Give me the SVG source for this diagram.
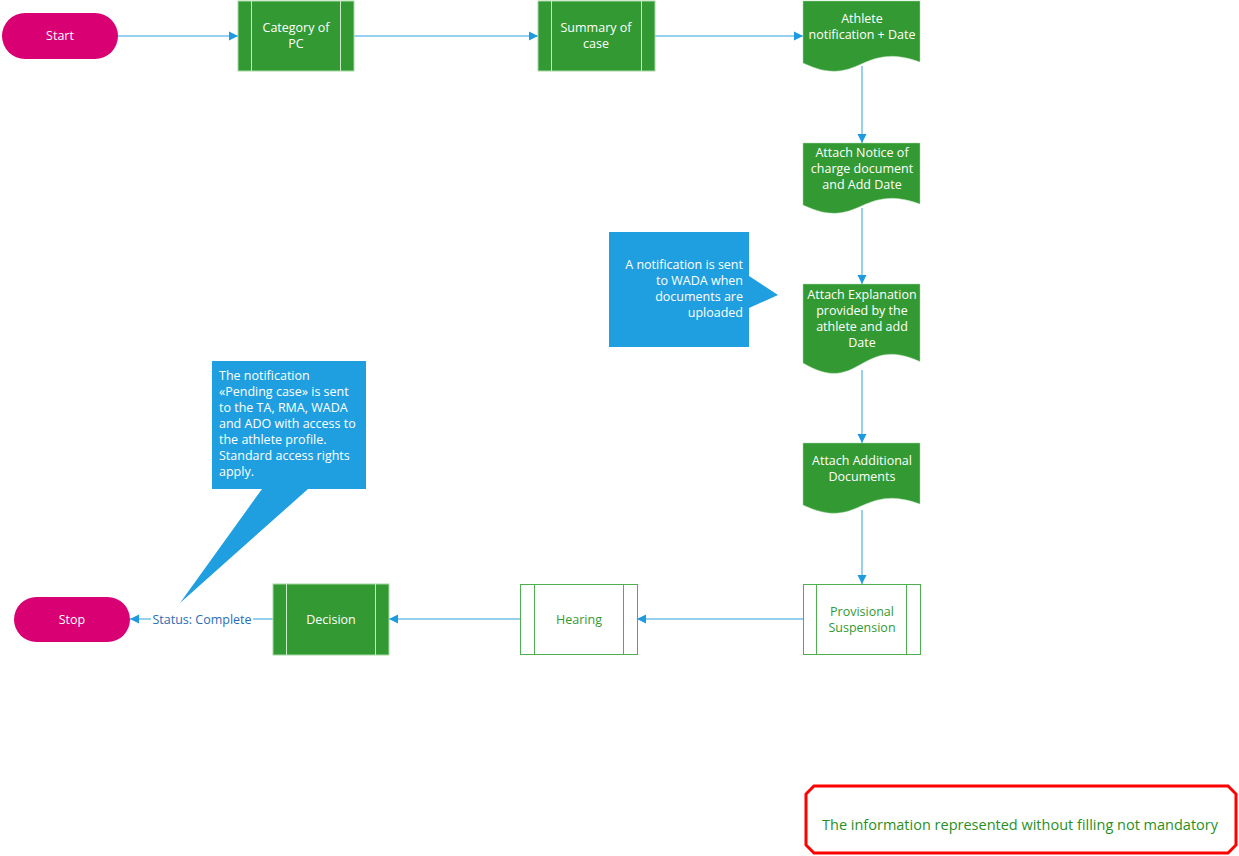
<svg xmlns="http://www.w3.org/2000/svg" width="1239" height="856" viewBox="0 0 1239 856">
<style>
text{font-family:"Open Sans","Noto Sans","Liberation Sans",sans-serif;font-size:12.5px}
.w{fill:#ffffff;text-anchor:middle}
.g{fill:#339933;text-anchor:middle}
.term{fill:#d80073}
.proc{fill:#339933;stroke:#a6d9a6;stroke-width:1}
.inl{stroke:#c9ecc9;stroke-width:1}
.proc2{fill:#ffffff;stroke:#4fae4f;stroke-width:1}
.inl2{stroke:#4fae4f;stroke-width:1}
.doc{fill:#339933;stroke:#a6d9a6;stroke-width:0.5}
.call{fill:#1f9fe0}
.ct{fill:#ffffff}
.conn{stroke:#2ea0e0;stroke-width:1;fill:none}
</style>
<defs>
<marker id="arr" markerWidth="10" markerHeight="10" refX="9" refY="5" orient="auto" markerUnits="userSpaceOnUse">
<path d="M0,0.5 L9,5 L0,9.5 Z" fill="#1e9be0"/>
</marker>
</defs>
<rect x="0" y="0" width="1239" height="856" fill="#ffffff"/>
<g id="connectors">
<line class="conn" x1="118" y1="36" x2="238" y2="36" marker-end="url(#arr)"/>
<line class="conn" x1="354" y1="36" x2="538" y2="36" marker-end="url(#arr)"/>
<line class="conn" x1="655" y1="36" x2="803" y2="36" marker-end="url(#arr)"/>
<line class="conn" x1="862" y1="66" x2="862" y2="143" marker-end="url(#arr)"/>
<line class="conn" x1="862" y1="208" x2="862" y2="284" marker-end="url(#arr)"/>
<line class="conn" x1="862" y1="370" x2="862" y2="443" marker-end="url(#arr)"/>
<line class="conn" x1="862" y1="510" x2="862" y2="584" marker-end="url(#arr)"/>
<line class="conn" x1="803" y1="619" x2="637" y2="619" marker-end="url(#arr)"/>
<line class="conn" x1="520" y1="619" x2="389" y2="619" marker-end="url(#arr)"/>
<line class="conn" x1="273" y1="619" x2="130" y2="619" marker-end="url(#arr)"/>
<rect x="151" y="611" width="102" height="16" fill="#ffffff"/>
<text x="202" y="623.5" style="fill:#2a6db5;text-anchor:middle">Status: Complete</text>
</g>
<g id="start">
<rect class="term" x="2" y="13" width="116" height="46" rx="23"/>
<text class="w" x="60" y="40">Start</text>
</g>
<g id="category">
<rect class="proc" x="238" y="1" width="116" height="70"/>
<line class="inl" x1="251.5" y1="1" x2="251.5" y2="71"/>
<line class="inl" x1="340.5" y1="1" x2="340.5" y2="71"/>
<text class="w" x="296" y="32">Category of</text>
<text class="w" x="296" y="48">PC</text>
</g>
<g id="summary">
<rect class="proc" x="538" y="1" width="117" height="70"/>
<line class="inl" x1="551.5" y1="1" x2="551.5" y2="71"/>
<line class="inl" x1="641.5" y1="1" x2="641.5" y2="71"/>
<text class="w" x="596" y="32">Summary of</text>
<text class="w" x="596" y="48">case</text>
</g>
<g id="athlete">
<path class="doc" d="M803,1 H920 V62 C860,40 860,90 803,63 Z"/>
<text class="w" x="862" y="23">Athlete</text>
<text class="w" x="862" y="39">notification + Date</text>
</g>
<g id="notice">
<path class="doc" d="M803,143 H920 V204 C860,182 860,232 803,205 Z"/>
<text class="w" x="862" y="157">Attach Notice of</text>
<text class="w" x="862" y="173">charge document</text>
<text class="w" x="862" y="189">and Add Date</text>
</g>
<g id="explanation">
<path class="doc" d="M803,284 H920 V361.5 C860,333.6 860,397 803,363 Z"/>
<text class="w" x="862" y="299">Attach Explanation</text>
<text class="w" x="862" y="315">provided by the</text>
<text class="w" x="862" y="331">athlete and add</text>
<text class="w" x="862" y="347">Date</text>
</g>
<g id="additional">
<path class="doc" d="M803,443 H920 V504 C860,482 860,532 803,505 Z"/>
<text class="w" x="862" y="465">Attach Additional</text>
<text class="w" x="862" y="481">Documents</text>
</g>
<g id="provisional">
<rect class="proc2" x="803.5" y="584.5" width="117" height="70"/>
<line class="inl2" x1="816.5" y1="584.5" x2="816.5" y2="654.5"/>
<line class="inl2" x1="906.5" y1="584.5" x2="906.5" y2="654.5"/>
<text class="g" x="862" y="616">Provisional</text>
<text class="g" x="862" y="632">Suspension</text>
</g>
<g id="hearing">
<rect class="proc2" x="520.5" y="584.5" width="117" height="70"/>
<line class="inl2" x1="534.5" y1="584.5" x2="534.5" y2="654.5"/>
<line class="inl2" x1="623.5" y1="584.5" x2="623.5" y2="654.5"/>
<text class="g" x="579" y="624">Hearing</text>
</g>
<g id="decision">
<rect class="proc" x="273" y="584" width="116" height="71"/>
<line class="inl" x1="286.5" y1="584" x2="286.5" y2="655"/>
<line class="inl" x1="375.5" y1="584" x2="375.5" y2="655"/>
<text class="w" x="331" y="624">Decision</text>
</g>
<g id="stop">
<rect class="term" x="14" y="597" width="116" height="45" rx="22.5"/>
<text class="w" x="72" y="624">Stop</text>
</g>
<g id="callout-wada">
<path class="call" d="M609,232 H749 V276 L778,295 L749,308 V347 H609 Z"/>
<text class="ct" x="743" y="269" text-anchor="end">A notification is sent</text>
<text class="ct" x="743" y="285" text-anchor="end">to WADA when</text>
<text class="ct" x="743" y="301" text-anchor="end">documents are</text>
<text class="ct" x="743" y="317" text-anchor="end">uploaded</text>
</g>
<g id="callout-pending">
<path class="call" d="M212,361 H366 V489 H308 L180,603 L262,489 H212 Z"/>
<text class="ct" x="219" y="380">The notification</text>
<text class="ct" x="219" y="396">«Pending case» is sent</text>
<text class="ct" x="219" y="412">to the TA, RMA, WADA</text>
<text class="ct" x="219" y="428">and ADO with access to</text>
<text class="ct" x="219" y="444">the athlete profile.</text>
<text class="ct" x="219" y="460">Standard access rights</text>
<text class="ct" x="219" y="476">apply.</text>
</g>
<g id="note">
<path d="M814,786 H1228 L1236,794 V845 L1228,853 H814 L806,845 V794 Z" fill="#ffffff" stroke="#ff0000" stroke-width="3"/>
<text x="1020" y="830" style="font-size:14.5px;fill:#2a8f1f;text-anchor:middle">The information represented without filling not mandatory</text>
</g>
</svg>
